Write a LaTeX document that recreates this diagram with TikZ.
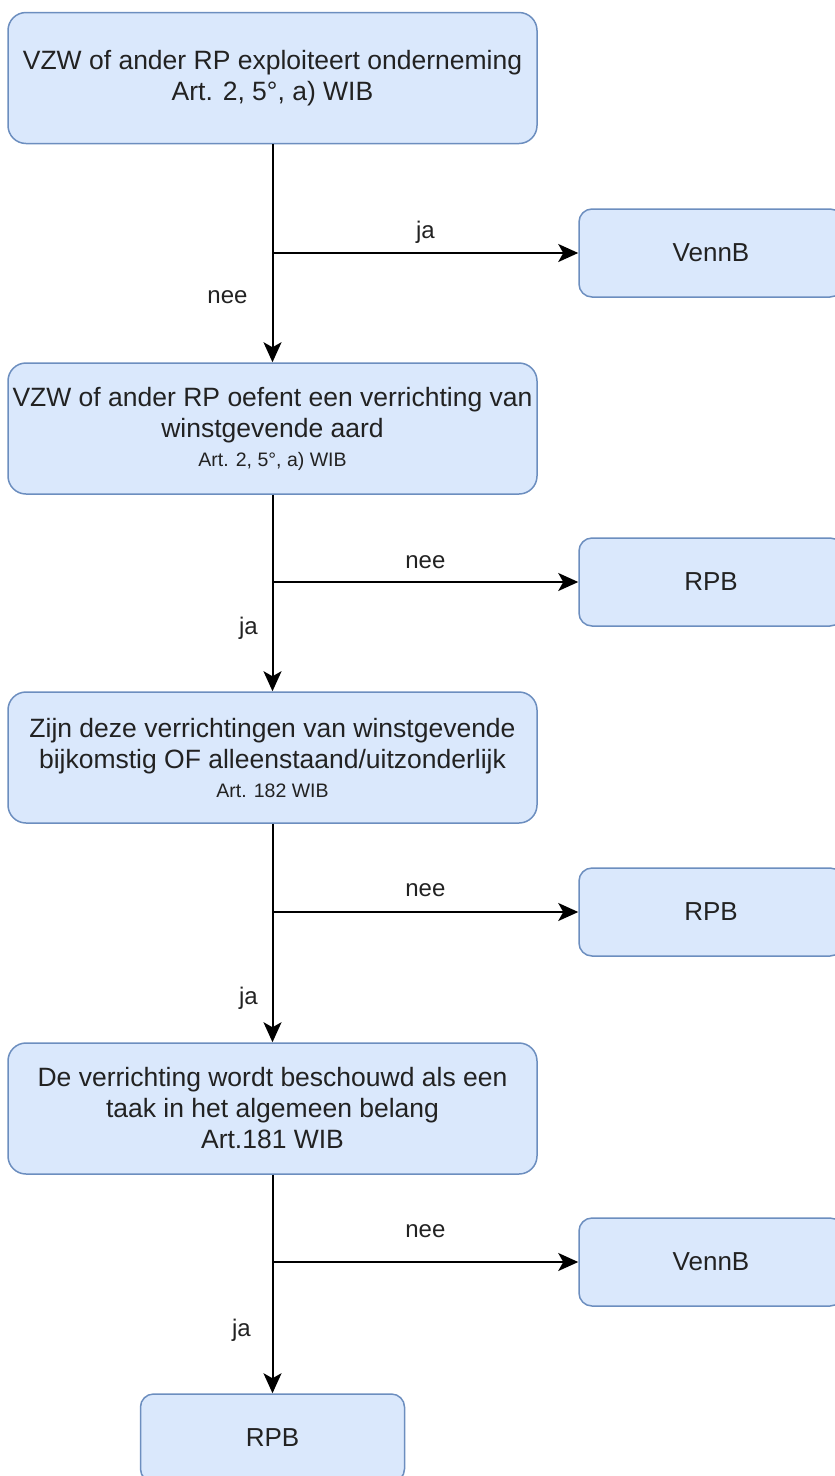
\documentclass[tikz,border=0pt]{standalone}
\usepackage{fontspec}
\setmainfont{Liberation Sans}
\usetikzlibrary{arrows.meta}
\definecolor{boxfill}{HTML}{DAE8FC}
\definecolor{boxline}{HTML}{6C8EBF}
\definecolor{txt}{HTML}{222222}
\begin{document}
\begin{tikzpicture}[x=1pt,y=-1pt,
  bigbox/.style={draw=boxline, fill=boxfill, line width=1.5pt, rounded corners=18pt,
    minimum width=529pt, minimum height=131pt, inner sep=0pt, align=center,
    text=txt, font=\fontsize{26.5}{31}\selectfont},
  smallbox/.style={draw=boxline, fill=boxfill, line width=1.5pt, rounded corners=13pt,
    minimum width=264pt, minimum height=88pt, inner sep=0pt, align=center,
    text=txt, font=\fontsize{26}{31}\selectfont},
  conn/.style={draw=black, line width=2pt, -{Stealth[length=20pt,width=18pt,inset=5pt]}},
  lbl/.style={text=txt, inner sep=0pt, font=\fontsize{24}{28}\selectfont},
]
\newcommand{\artsmall}[1]{{\fontsize{19.5}{23}\selectfont #1}}
\useasboundingbox (0,0) rectangle (835,1476);
\clip (0,0) rectangle (835,1476);

\node[bigbox] (b1) at (272.5,78) {VZW of ander RP exploiteert onderneming\\Art. 2, 5°, a) WIB};
\node[bigbox] (b2) at (272.5,428.5) {VZW of ander RP oefent een verrichting van\\winstgevende aard\\[-2pt]\artsmall{Art. 2, 5°, a) WIB}};
\node[bigbox] (b3) at (272.5,757.5) {Zijn deze verrichtingen van winstgevende\\bijkomstig OF alleenstaand/uitzonderlijk\\[-2pt]\artsmall{Art. 182 WIB}};
\node[bigbox] (b4) at (272.5,1108.5) {De verrichting wordt beschouwd als een\\taak in het algemeen belang\\Art.181 WIB};

\node[smallbox] (r1) at (711,253) {VennB};
\node[smallbox] (r2) at (711,582) {RPB};
\node[smallbox] (r3) at (711,912) {RPB};
\node[smallbox] (r4) at (711,1262) {VennB};
\node[smallbox] (b5) at (272.5,1438) {RPB};

\draw[conn] (b1.south) |- (r1.west) node[lbl, pos=0.75, yshift=21pt] {ja};
\draw[conn] (b1.south) -- (b2.north) node[lbl, pos=0.70, xshift=-45pt] {nee};

\draw[conn] (b2.south) |- (r2.west) node[lbl, pos=0.75, yshift=20pt] {nee};
\draw[conn] (b2.south) -- (b3.north) node[lbl, pos=0.68, xshift=-24pt] {ja};

\draw[conn] (b3.south) |- (r3.west) node[lbl, pos=0.75, yshift=22pt] {nee};
\draw[conn] (b3.south) -- (b4.north) node[lbl, pos=0.80, xshift=-24pt] {ja};

\draw[conn] (b4.south) |- (r4.west) node[lbl, pos=0.75, yshift=31pt] {nee};
\draw[conn] (b4.south) -- (b5.north) node[lbl, pos=0.71, xshift=-31pt] {ja};
\end{tikzpicture}
\end{document}
